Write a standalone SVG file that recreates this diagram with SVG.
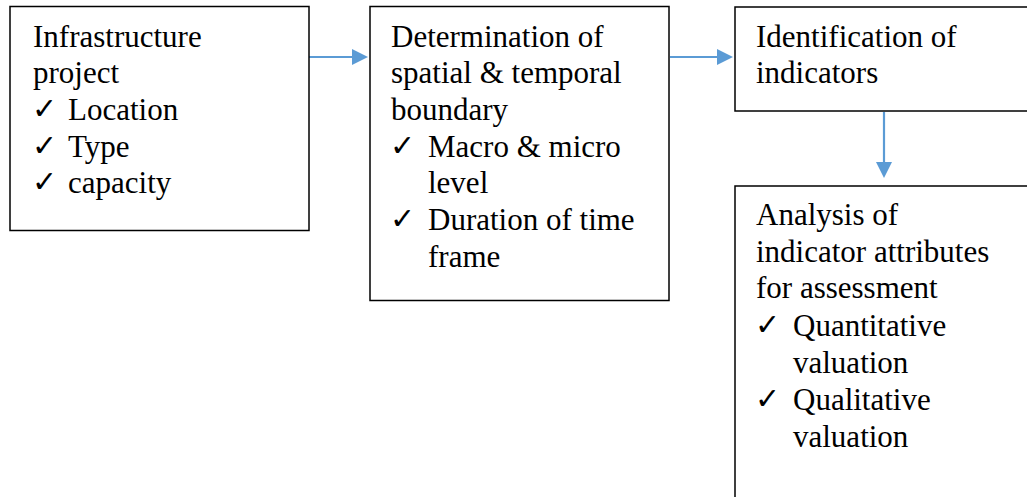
<svg xmlns="http://www.w3.org/2000/svg" width="1027" height="497" viewBox="0 0 1027 497">
  <defs>
    <style>
      .box { fill: #ffffff; stroke: #000000; stroke-width: 1.5; }
      .t { font-family: "Liberation Serif", "Times New Roman", serif; font-size: 31px; fill: #000000; }
      .ck { font-family: "DejaVu Sans", sans-serif; font-size: 30px; font-weight: bold; fill: #000000; }
      .link { stroke: #5B9BD5; stroke-width: 2.2; fill: none; }
      .head { fill: #5B9BD5; }
    </style>
  </defs>
  <rect width="1027" height="497" fill="#ffffff"/>

  <g id="connectors">
    <line class="link" x1="309" y1="57" x2="353" y2="57"/>
    <polygon class="head" points="352,49 368,57 352,65"/>
    <line class="link" x1="670" y1="57" x2="718" y2="57"/>
    <polygon class="head" points="717,49 733,57 717,65"/>
    <line class="link" x1="884" y1="112" x2="884" y2="163"/>
    <polygon class="head" points="876,162 892,162 884,178"/>
  </g>

  <g id="node-project">
    <rect class="box" x="10" y="6.5" width="299" height="224"/>
    <text class="t" x="33" y="47">Infrastructure</text>
    <text class="t" x="33" y="83">project</text>
    <text class="ck" x="32" y="119">✓</text>
    <text class="t" x="68" y="120">Location</text>
    <text class="ck" x="32" y="156">✓</text>
    <text class="t" x="68" y="157">Type</text>
    <text class="ck" x="32" y="192">✓</text>
    <text class="t" x="68" y="193">capacity</text>
  </g>

  <g id="node-boundary">
    <rect class="box" x="370" y="6.5" width="299" height="294"/>
    <text class="t" x="391" y="47">Determination of</text>
    <text class="t" x="391" y="83">spatial &amp; temporal</text>
    <text class="t" x="391" y="120">boundary</text>
    <text class="ck" x="390" y="156">✓</text>
    <text class="t" x="428" y="157">Macro &amp; micro</text>
    <text class="t" x="428" y="193">level</text>
    <text class="ck" x="390" y="229">✓</text>
    <text class="t" x="428" y="230">Duration of time</text>
    <text class="t" x="428" y="267">frame</text>
  </g>

  <g id="node-indicators">
    <rect class="box" x="735" y="7" width="300" height="104"/>
    <text class="t" x="756" y="47">Identification of</text>
    <text class="t" x="756" y="83">indicators</text>
  </g>

  <g id="node-analysis">
    <rect class="box" x="735" y="186" width="300" height="320"/>
    <text class="t" x="756" y="225">Analysis of</text>
    <text class="t" x="756" y="262">indicator attributes</text>
    <text class="t" x="756" y="298">for assessment</text>
    <text class="ck" x="755" y="335">✓</text>
    <text class="t" x="793" y="336">Quantitative</text>
    <text class="t" x="793" y="373">valuation</text>
    <text class="ck" x="755" y="409">✓</text>
    <text class="t" x="793" y="410">Qualitative</text>
    <text class="t" x="793" y="447">valuation</text>
  </g>
</svg>
